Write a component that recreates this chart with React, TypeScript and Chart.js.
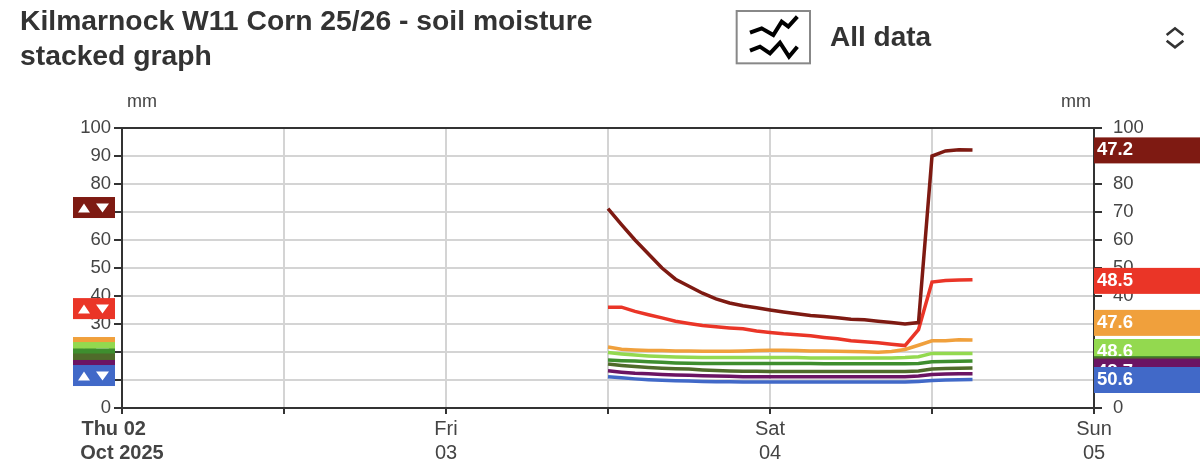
import { useEffect, useRef } from "react";
import { Chart, registerables } from "chart.js";

Chart.register(...registerables);

// hours since Thu 02 Oct 00:00
const hours = [36, 37, 38, 39, 40, 41, 42, 43, 44, 45, 46, 47, 48, 49, 50, 51, 52, 53, 54, 55, 56, 57, 58, 59, 60, 61, 62, 63];

const darkRedValues = [71.2, 65.5, 60, 55, 50, 46, 43.5, 41, 39, 37.5, 36.5, 35.8, 35, 34.3, 33.7, 33, 32.7, 32.2, 31.7, 31.5, 31, 30.5, 30, 30.5, 90, 91.8, 92.2, 92.1];
const redValues = [36, 36, 34.5, 33.3, 32.2, 31, 30.2, 29.5, 29, 28.6, 28.3, 27.5, 27, 26.5, 26.2, 25.8, 25.2, 24.7, 24, 23.7, 23.3, 22.8, 22.3, 28, 45, 45.5, 45.7, 45.8];
const orangeValues = [21.8, 21, 20.7, 20.5, 20.5, 20.4, 20.4, 20.3, 20.3, 20.3, 20.4, 20.5, 20.6, 20.6, 20.5, 20.4, 20.4, 20.3, 20.2, 20.1, 19.9, 20.2, 20.9, 22.4, 24, 24, 24.4, 24.3];
const lightGreenValues = [19.8, 19.3, 18.9, 18.6, 18.4, 18.2, 18.1, 18, 18, 18, 18, 18, 18, 18, 18, 17.9, 17.9, 17.9, 17.9, 17.9, 17.9, 17.9, 18, 18.3, 19.5, 19.5, 19.5, 19.5];
const greenValues = [17.1, 16.9, 16.8, 16.5, 16.3, 16.1, 16, 15.9, 15.9, 15.9, 15.9, 15.9, 15.9, 15.9, 15.9, 15.9, 15.8, 15.8, 15.8, 15.8, 15.8, 15.8, 15.8, 15.9, 16.5, 16.6, 16.7, 16.8];
const oliveValues = [15.7, 15.2, 14.8, 14.5, 14.2, 14, 13.9, 13.6, 13.4, 13.2, 13.1, 13.1, 13, 13, 13, 13, 13, 13, 13, 13, 13, 13, 13, 13.2, 13.9, 14.1, 14.2, 14.3];
const purpleValues = [13.3, 12.8, 12.4, 12.2, 12, 11.8, 11.7, 11.5, 11.4, 11.3, 11.2, 11.2, 11.2, 11.2, 11.2, 11.2, 11.2, 11.2, 11.2, 11.2, 11.2, 11.2, 11.2, 11.4, 12, 12.1, 12.2, 12.2];
const blueValues = [11.2, 10.8, 10.4, 10.1, 9.9, 9.7, 9.6, 9.5, 9.4, 9.4, 9.3, 9.3, 9.3, 9.3, 9.3, 9.3, 9.3, 9.3, 9.3, 9.3, 9.3, 9.3, 9.3, 9.5, 9.8, 10, 10.1, 10.2];

const seriesNames = ["Dark red", "Red", "Orange", "Light green", "Green", "Olive", "Purple", "Blue"];
const seriesColors = ["#7e1a12", "#ea3527", "#f0a03c", "#93d94f", "#3e8e2e", "#4f6b2a", "#6b1463", "#4169c8"];
const seriesValues = [darkRedValues, redValues, orangeValues, lightGreenValues, greenValues, oliveValues, purpleValues, blueValues];

// the value tags on the right, and where the page stacked the tags on each side (axis units)
const tagLabels = ["47.2", "48.5", "47.6", "48.6", "48.9", "49.0", "48.7", "50.6"];
const rightTagLevels = [92, 45.4, 30.4, 20, 13.9, 13.6, 13, 10];
const leftTagLevels = [71.6, 35.5, 21.6, 19.8, 17.5, 15.7, 13.4, 11.6];

const dayLabels: Record<number, string[]> = {
    0: ["Thu 02   ", "Oct 2025"],
    24: ["Fri", "03"],
    48: ["Sat", "04"],
    72: ["Sun", "05"],
};

const AXIS_COLOR = "#333333";
const GRID_COLOR = "#d4d4d4";
const TEXT_COLOR = "#444444";
const FONT = "'Liberation Sans', Arial, sans-serif";

const tagsPlugin = {
    id: "tags",
    afterDraw(chart: any) {
        const ctx = chart.ctx;
        const y = chart.scales.y;
        ctx.save();

        ctx.fillStyle = TEXT_COLOR;
        ctx.font = `18px ${FONT}`;
        ctx.textAlign = "center";
        ctx.textBaseline = "middle";
        ctx.fillText("mm", 142, 102);
        ctx.fillText("mm", 1076, 102);

        seriesColors.forEach((color, i) => {
            const cy = y.getPixelForValue(leftTagLevels[i]);
            ctx.fillStyle = color;
            ctx.fillRect(73, cy - 10.5, 42, 21);
            ctx.fillStyle = "#ffffff";
            ctx.beginPath();
            ctx.moveTo(78, cy + 5);
            ctx.lineTo(90, cy + 5);
            ctx.lineTo(84, cy - 4);
            ctx.closePath();
            ctx.moveTo(96, cy - 4);
            ctx.lineTo(109, cy - 4);
            ctx.lineTo(102.5, cy + 5);
            ctx.closePath();
            ctx.fill();
        });

        ctx.textAlign = "left";
        ctx.font = `bold 18.5px ${FONT}`;
        seriesColors.forEach((color, i) => {
            const cy = y.getPixelForValue(rightTagLevels[i]);
            ctx.fillStyle = color;
            ctx.fillRect(1094, cy - 13, 106, 26);
            ctx.fillStyle = "#ffffff";
            ctx.fillText(tagLabels[i], 1097, cy);
        });
        ctx.restore();
    },
};

const yTicks = {
    stepSize: 10,
    color: TEXT_COLOR,
    padding: 3,
    font: { family: FONT, size: 18.5 },
};

const App = () => {
    const chartRef = useRef<HTMLCanvasElement | null>(null);

    useEffect(() => {
        document.body.style.margin = "0";
        if (!chartRef.current) return;
        const chart = new Chart(chartRef.current, {
            type: "line",
            data: {
                datasets: seriesNames.map((name, i) => ({
                    label: name,
                    data: hours.map((h, j) => ({ x: h, y: seriesValues[i][j] })),
                    borderColor: seriesColors[i],
                    borderWidth: 3.5,
                    pointRadius: 0,
                    tension: 0,
                    yAxisID: "y",
                })),
            },
            options: {
                responsive: false,
                animation: false,
                devicePixelRatio: 1,
                layout: { padding: { top: 128, left: 0, right: 0, bottom: 0 } },
                plugins: { legend: { display: false }, tooltip: { enabled: false } },
                scales: {
                    x: {
                        type: "linear",
                        min: 0,
                        max: 72,
                        afterFit: (s: any) => { s.height = 57; },
                        afterBuildTicks: (s: any) => {
                            s.ticks = [0, 12, 24, 36, 48, 60, 72].map((value) => ({ value }));
                        },
                        border: { color: AXIS_COLOR, width: 2 },
                        grid: {
                            color: (c: any) => (c.tick && (c.tick.value === 0 || c.tick.value === 72) ? AXIS_COLOR : GRID_COLOR),
                            lineWidth: 2,
                            tickColor: AXIS_COLOR,
                            tickLength: 6,
                        },
                        ticks: {
                            autoSkip: false,
                            maxRotation: 0,
                            padding: 3,
                            color: TEXT_COLOR,
                            callback: (v: any) => dayLabels[v] ?? "",
                            font: (c: any) => ({
                                family: FONT,
                                size: 20,
                                lineHeight: 1.2,
                                weight: c.tick && c.tick.value === 0 ? "bold" : "normal",
                            }),
                        },
                    },
                    y: {
                        min: 0,
                        max: 100,
                        afterFit: (s: any) => { s.width = 122; },
                        border: { color: AXIS_COLOR, width: 2 },
                        grid: {
                            color: (c: any) => (c.tick && (c.tick.value === 0 || c.tick.value === 100) ? AXIS_COLOR : GRID_COLOR),
                            lineWidth: 2,
                            tickColor: AXIS_COLOR,
                            tickLength: 8,
                        },
                        ticks: yTicks,
                    },
                    y2: {
                        position: "right",
                        min: 0,
                        max: 100,
                        afterFit: (s: any) => { s.width = 106; },
                        border: { color: AXIS_COLOR, width: 2 },
                        grid: { drawOnChartArea: false, lineWidth: 2, tickColor: AXIS_COLOR, tickLength: 8 },
                        ticks: { ...yTicks, padding: 11 },
                    },
                },
            },
            plugins: [tagsPlugin],
        } as any);

        return () => {
            chart.destroy();
        };
    }, []);

    return (
        <div style={{ position: "absolute", left: 0, top: 0, width: 1200, height: 465, overflow: "hidden", background: "#fff", fontFamily: FONT, color: "#333" }}>
            <canvas ref={chartRef} width={1200} height={465} style={{ display: "block" }} />
            <div style={{ position: "absolute", left: 20, top: 3, fontSize: 28.3, fontWeight: "bold", lineHeight: "35px", whiteSpace: "nowrap" }}>
                Kilmarnock W11 Corn 25/26 - soil moisture
                <br />
                stacked graph
            </div>
            <svg style={{ position: "absolute", left: 720, top: 0 }} width={480} height={80} viewBox="0 0 1440 240" fill="none">
                <rect x={50} y={33} width={220} height={157} stroke="#888" strokeWidth={6} />
                <polyline points="90,98 125,85 160,105 185,65 205,80 232,50" stroke="#000" strokeWidth={12} />
                <polyline points="90,152 120,140 150,160 180,128 207,170 232,140" stroke="#000" strokeWidth={12} />
                <polyline points="1340,105 1365,85 1390,105" stroke="#333" strokeWidth={8} />
                <polyline points="1340,122 1365,142 1390,122" stroke="#333" strokeWidth={8} />
            </svg>
            <div style={{ position: "absolute", left: 830, top: 20, fontSize: 28, fontWeight: "bold", lineHeight: "34px" }}>All data</div>
        </div>
    );
};

export default App;
